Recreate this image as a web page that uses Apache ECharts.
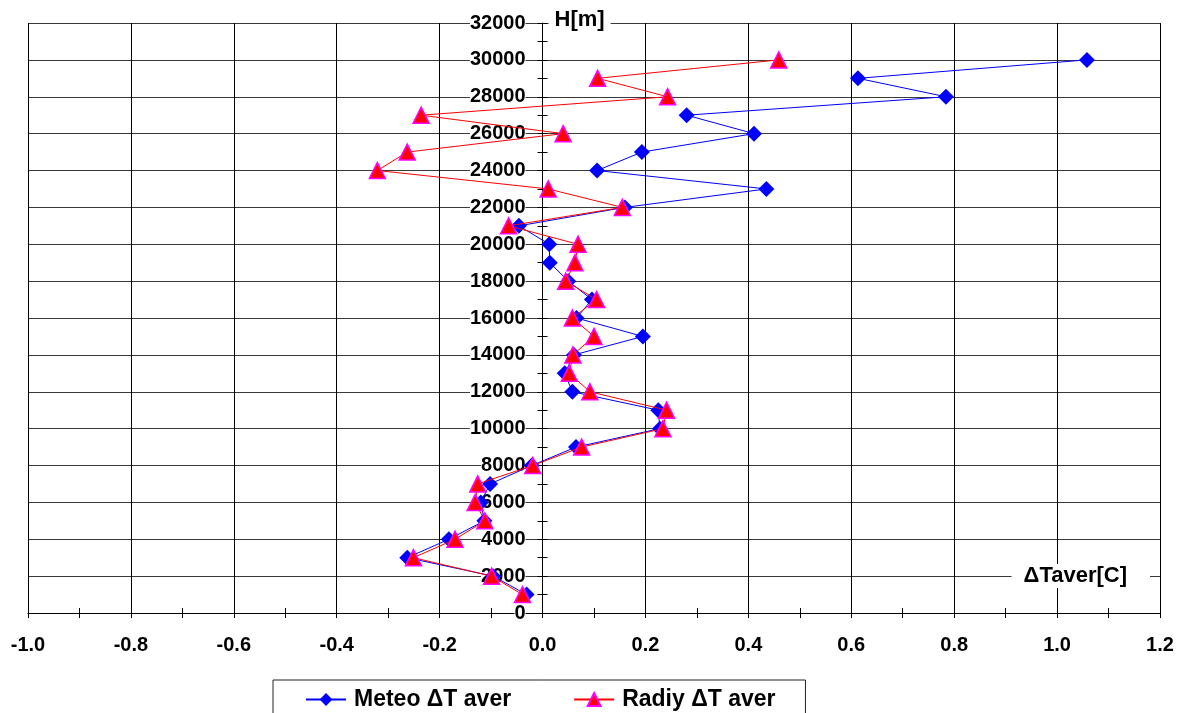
<!DOCTYPE html>
<html>
<head>
<meta charset="utf-8">
<script src="https://cdn.jsdelivr.net/npm/echarts@6/dist/echarts.min.js"></script>
<style>
html,body{margin:0;padding:0;background:#fff;}
#chart{width:1184px;height:713px;}
</style>
</head>
<body>
<div id="chart"></div>
<script>
// Heights (m)
var heights = [1000,2000,3000,4000,5000,6000,7000,8000,9000,10000,11000,12000,13000,14000,15000,16000,17000,18000,19000,20000,21000,22000,23000,24000,25000,26000,27000,28000,29000,30000];
// Meteo ΔT aver
var meteo = [-0.031,-0.096,-0.263,-0.182,-0.113,-0.120,-0.102,-0.021,0.065,0.228,0.225,0.058,0.043,0.061,0.195,0.066,0.096,0.050,0.014,0.013,-0.046,0.160,0.435,0.106,0.193,0.411,0.280,0.784,0.613,1.058];
// Radiy ΔT aver
var radiy = [-0.039,-0.099,-0.251,-0.170,-0.112,-0.131,-0.126,-0.019,0.076,0.234,0.241,0.092,0.052,0.059,0.100,0.058,0.105,0.045,0.063,0.069,-0.066,0.155,0.011,-0.321,-0.263,0.040,-0.236,0.243,0.107,0.459];
// Axis ticks
var xTicks = [-1.0,-0.8,-0.6,-0.4,-0.2,0.0,0.2,0.4,0.6,0.8,1.0,1.2];
var yTicks = [0,2000,4000,6000,8000,10000,12000,14000,16000,18000,20000,22000,24000,26000,28000,30000,32000];
var seriesNames = ['Meteo \u0394T aver', 'Radiy \u0394T aver'];

var FONT = "'Liberation Sans', Arial, sans-serif";
function pairs(xs){ return xs.map(function(v,i){ return [v, heights[i]]; }); }

var W = 1184, GL = 28, GR = 24;
var xMin = xTicks[0], xMax = xTicks[xTicks.length-1], xInt = 0.2;
var yMin = yTicks[0], yMax = yTicks[yTicks.length-1], yInt = yTicks[1]-yTicks[0];
// place the vertical axis where x = 0 (derived from the x scale)
var yAxisOffset = -((0 - xMin) / (xMax - xMin)) * (W - GL - GR);

var chart = echarts.init(document.getElementById('chart'), null, {renderer:'canvas'});
var option = {
  animation: false,
  backgroundColor: '#fff',
  textStyle: {fontFamily: FONT},
  grid: {left: GL, right: GR, top: 23, bottom: 100, containLabel: false, outerBoundsMode: 'none'},
  legend: {
    data: seriesNames,
    left: 273, top: 680,
    orient: 'horizontal',
    itemWidth: 40, itemHeight: 16, itemGap: 62,
    padding: [8, 30, 20, 32],
    borderColor: '#222', borderWidth: 1,
    textStyle: {fontFamily: FONT, fontSize: 23, fontWeight: 'bold', color: '#000', padding: [0,0,0,3]}
  },
  xAxis: [{
    type: 'value', min: xMin, max: xMax, interval: xInt, position: 'bottom',
    axisLine: {onZero: false, lineStyle: {color: '#000', width: 1}},
    axisTick: {show: true, length: 5, inside: false, lineStyle: {color: '#000'}},
    minorTick: {show: true, splitNumber: 2, length: 5, lineStyle: {color: '#000'}},
    splitLine: {show: true, lineStyle: {color: '#000', width: 1}},
    axisLabel: {margin: 22, fontFamily: FONT, fontSize: 20, fontWeight: 'bold', color: '#000', showMinLabel: true, showMaxLabel: true,
      formatter: function(v){ if (Math.abs(v) < 1e-9) v = 0; return v.toFixed(1); }},
    name: '{t|\u0394Taver[C]}', nameLocation: 'end', nameGap: -10,
    nameTextStyle: {align: 'right', verticalAlign: 'bottom', padding: [0,0,25,0],
      rich: {t: {fontFamily: FONT, fontSize: 22, fontWeight: 'bold', color: '#000', backgroundColor: '#fff', padding: [1,23,1,12]}}}
  },{
    type: 'value', min: xMin, max: xMax, interval: xInt, position: 'bottom',
    axisLine: {show: false, onZero: false},
    axisTick: {show: false, inside: true},
    minorTick: {show: true, splitNumber: 2, length: 5, lineStyle: {color: '#000'}},
    splitLine: {show: false}, axisLabel: {show: false}
  }],
  yAxis: [{
    type: 'value', min: yMin, max: yMax, interval: yInt, position: 'left', offset: yAxisOffset,
    axisLine: {onZero: false, lineStyle: {color: '#000', width: 1}},
    axisTick: {show: true, length: 5, inside: false, lineStyle: {color: '#000'}},
    minorTick: {show: true, splitNumber: 2, length: 5, lineStyle: {color: '#000'}},
    splitLine: {show: true, lineStyle: {color: '#3a3a3a', width: 1}},
    axisLabel: {margin: 17, fontFamily: FONT, fontSize: 20, fontWeight: 'bold', color: '#000', backgroundColor: '#fff', showMinLabel: true, showMaxLabel: true,
      formatter: function(v){ return String(Math.round(v)); }},
    name: '{t|H[m]}', nameLocation: 'end', nameGap: 3,
    nameTextStyle: {align: 'left', verticalAlign: 'middle', padding: [0,0,0,6],
      rich: {t: {fontFamily: FONT, fontSize: 22, fontWeight: 'bold', color: '#000', backgroundColor: '#fff', padding: [1,6,1,6]}}}
  },{
    type: 'value', min: yMin, max: yMax, interval: yInt, position: 'left', offset: yAxisOffset,
    axisLine: {show: false, onZero: false},
    axisTick: {show: true, length: 5, inside: true, lineStyle: {color: '#000'}},
    minorTick: {show: true, splitNumber: 2, length: 5, lineStyle: {color: '#000'}},
    splitLine: {show: false}, axisLabel: {show: false}
  }],
  series: [{
    name: seriesNames[0], type: 'line', data: pairs(meteo),
    symbol: 'diamond', symbolSize: 16,
    itemStyle: {color: '#0000ff'},
    lineStyle: {color: '#0000ff', width: 1},
    z: 3
  },{
    name: seriesNames[1], type: 'line', data: pairs(radiy),
    symbol: 'triangle', symbolSize: 16,
    itemStyle: {color: '#ff0000', borderColor: '#ff00ff', borderWidth: 1.5},
    lineStyle: {color: '#ff0000', width: 1},
    z: 4
  }]
};
chart.setOption(option);
</script>
</body>
</html>
